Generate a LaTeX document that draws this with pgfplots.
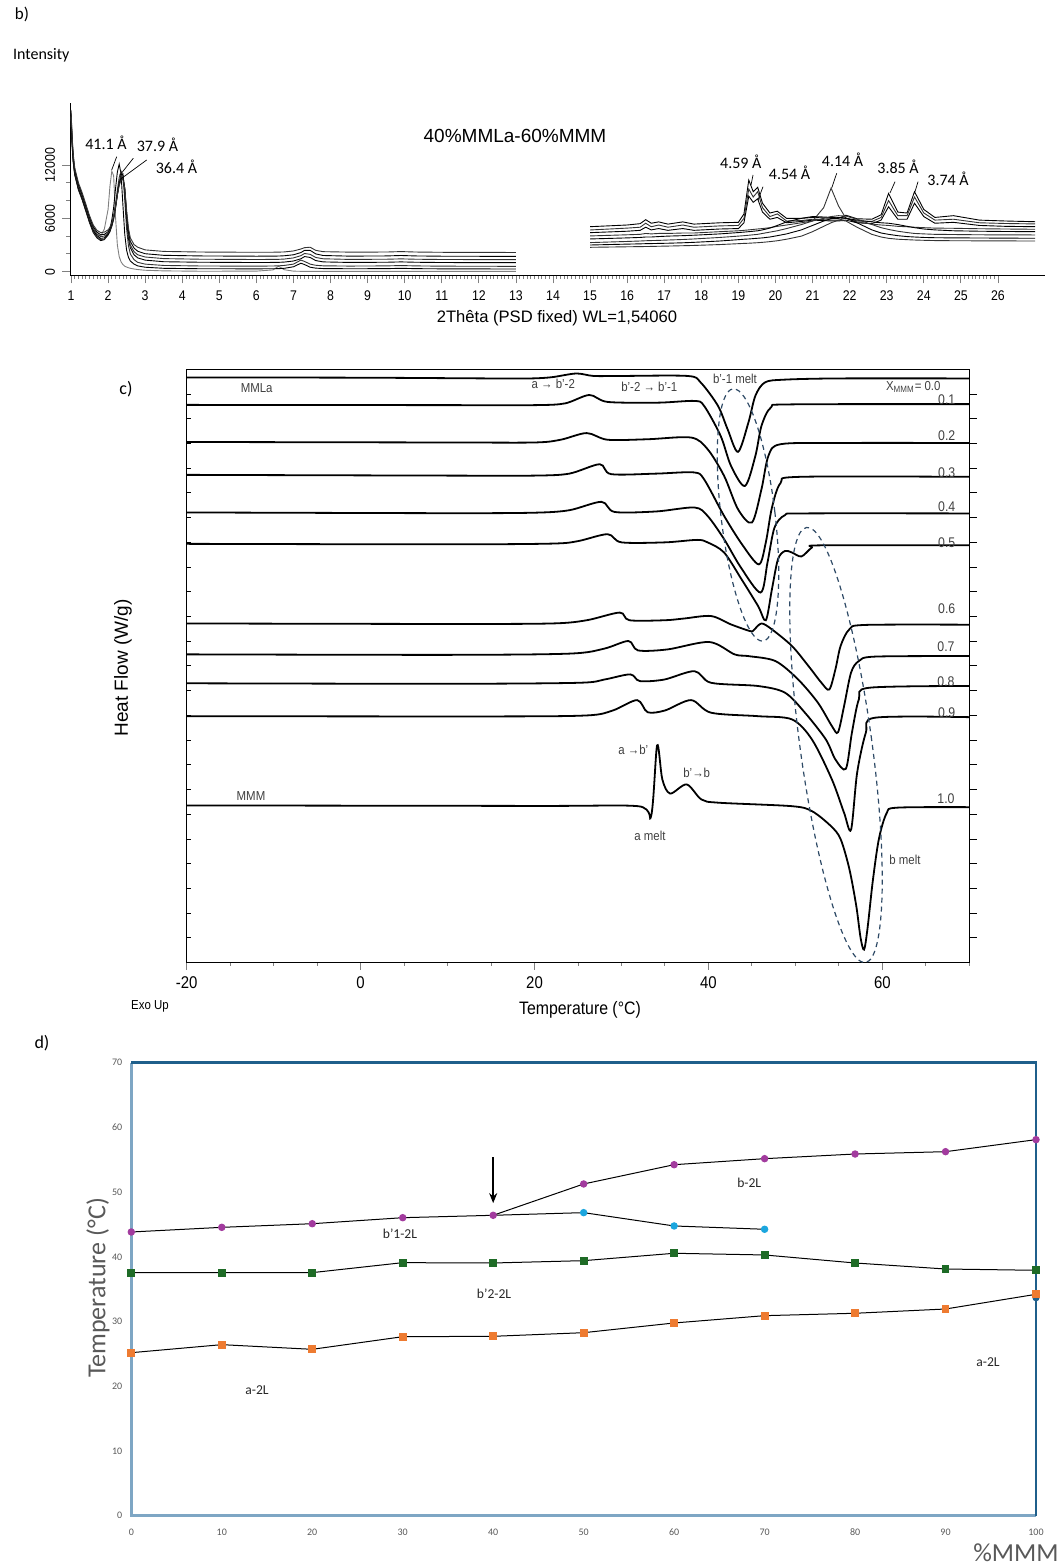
\documentclass[border=0pt]{standalone}
\usepackage{fontspec}
\setmainfont{Liberation Sans}
\newfontfamily\calfont{Carlito}
\newfontfamily\narrowfont[FakeStretch=0.88]{Liberation Sans}
\usepackage{pgfplots}
\pgfplotsset{compat=1.18}
\usepackage{pgfplotstable}
\usetikzlibrary{arrows.meta}
\newcommand{\fsz}[1]{\fontsize{#1}{#1}\selectfont}
\definecolor{dpurple}{HTML}{A23B9E}
\definecolor{dcyan}{HTML}{1BA6DE}
\definecolor{dgreen}{HTML}{1E6B26}
\definecolor{dorange}{HTML}{EE7B31}
\definecolor{dblue}{HTML}{1F5F8B}
\definecolor{lblue}{HTML}{7EA6C4}
\definecolor{dashc}{HTML}{2E4A66}
\definecolor{lgray}{HTML}{595959}
\definecolor{tgray}{HTML}{404040}
\tikzset{dsc/.style={black, line width=0.9pt, smooth, tension=0.5}}

\pgfplotstableread{
x c0 c1 c2 c3 c4 c5 c6
1.0 17500 17000 17300 17500 17700 17900 18200
1.03 14500 14200 14400 14600 14800 15000 15200
1.06 12500 12300 12400 12600 12800 13000 13200
1.1 11000 10900 11000 11100 11300 11500 11700
1.2 9300 9200 9300 9400 9600 9800 10000
1.3 8200 8100 8200 8300 8500 8700 8900
1.4 6900 6800 6900 7000 7200 7400 7600
1.5 5700 5500 5600 5700 5900 6100 6300
1.6 4700 4400 4500 4650 4850 5050 5250
1.7 4150 3800 3900 4050 4250 4450 4650
1.8 4000 3500 3600 3750 3950 4150 4400
1.9 4800 3600 3650 3800 4000 4200 4450
2.0 7000 4200 4100 4200 4350 4500 4700
2.05 9600 4800 4500 4550 4700 4850 5000
2.1 11300 5800 5200 5100 5200 5350 5500
2.15 10800 7200 6200 5900 6000 6100 6200
2.2 6200 9300 7600 7100 7200 7300 7300
2.25 3000 11200 9200 8600 8700 8700 8600
2.3 1700 12100 10600 10000 10000 9900 9700
2.35 1100 11000 11300 10900 10700 10500 10300
2.4 800 7500 10800 11000 10800 10600 10400
2.45 620 4200 8000 9000 9300 9400 9400
2.5 520 2400 4800 5800 6300 6600 6900
2.55 440 1600 2900 3700 4100 4500 4900
2.6 380 1200 2000 2700 3000 3400 3800
2.7 300 850 1350 1900 2250 2650 3050
2.8 240 650 1050 1550 1900 2300 2750
3.0 160 500 850 1300 1650 2020 2450
3.5 90 380 700 1120 1470 1840 2280
4.5 50 330 640 1060 1400 1770 2210
6.0 60 320 620 1030 1370 1740 2180
6.45 200 330 640 1040 1380 1750 2190
6.6 620 340 660 1050 1390 1760 2200
6.75 220 380 700 1080 1420 1790 2220
7.0 60 550 850 1200 1550 1900 2330
7.2 40 950 1300 1450 1800 2150 2550
7.3 40 800 1150 1700 2050 2400 2700
7.45 40 500 850 1600 1950 2400 2750
7.6 35 400 720 1250 1600 2000 2400
7.8 30 350 660 1100 1450 1820 2250
8.5 30 330 630 1040 1380 1750 2200
9.5 30 340 650 1060 1400 1770 2210
9.9 40 380 690 1100 1440 1820 2260
10.3 30 340 650 1060 1400 1770 2210
11 30 320 620 1030 1370 1740 2180
12 30 310 610 1020 1360 1730 2170
13 30 300 600 1010 1350 1720 2160
}\leftdata

\pgfplotstableread{
x r0 r1 r2 r3 r4 r5 r6 r7
15.0 5060 4690 4390 4020 3680 3270 3000 2740
16.0 5250 4900 4550 4150 3800 3400 3100 2800
16.35 5400 5000 4650 4200 3850 3450 3130 2820
16.5 5850 5450 5000 4300 3900 3480 3150 2830
16.65 5450 5050 4700 4250 3900 3500 3160 2840
16.85 5600 5250 4850 4300 3950 3520 3180 2860
17.1 5350 5000 4650 4300 4000 3560 3200 2880
17.5 5600 5250 4850 4350 4050 3620 3250 2920
17.8 5350 5000 4650 4350 4100 3680 3300 2950
18.5 5500 5150 4800 4500 4250 3850 3450 3050
19.0 5550 5200 4850 4600 4400 4000 3600 3150
19.15 6500 6000 5500 4650 4450 4050 3650 3180
19.28 10300 9300 8500 4700 4500 4100 3680 3200
19.4 9000 8400 7800 4750 4550 4150 3720 3230
19.52 9500 9000 8200 4800 4600 4200 3760 3260
19.65 7700 7200 6700 4850 4700 4300 3800 3300
19.85 6600 6200 5900 4950 4900 4450 3900 3380
20.05 6800 6500 6100 5100 5200 4600 4050 3480
20.3 6000 5700 5500 5250 5600 4850 4250 3650
20.7 6000 5750 5650 5500 6000 5300 4700 4000
21.0 6100 5900 5800 5700 6200 5700 5200 4500
21.3 6050 5850 5750 7200 6150 6000 5700 5100
21.5 6000 5800 5700 9400 6100 6200 5950 5500
21.7 6000 5800 5700 7400 6050 6300 6100 5800
21.9 6350 6000 5800 6000 6000 6250 6050 5700
22.2 5950 5700 5500 5600 5800 5900 5500 5000
22.6 5900 5650 5400 5350 5600 5300 4700 4200
22.85 6400 6100 5800 5250 5500 4950 4350 3900
23.05 8800 8000 7300 5200 5450 4750 4200 3750
23.3 6700 6300 5900 5100 5300 4550 4050 3650
23.55 6600 6300 5900 5050 5100 4400 3950 3600
23.75 9000 8400 7700 5000 4950 4300 3900 3560
24.0 7000 6600 6200 4950 4800 4250 3850 3530
24.3 6100 5800 5450 4900 4700 4200 3820 3500
24.8 6300 5900 5550 4880 4600 4180 3800 3480
25.5 5800 5500 5200 4830 4550 4150 3790 3470
26.2 5700 5420 5100 4800 4520 4140 3770 3460
27.0 5620 5370 5060 4770 4500 4130 3760 3450
}\rightdata

\begin{document}
\begin{tikzpicture}[x=0.5pt,y=0.5pt]
\path[use as bounding box] (0,0) rectangle (1063,1566);

%================ panel b =================
\begin{axis}[at={(35pt,645.25pt)}, anchor=south west, scale only axis,
  width=487.5pt, height=86.25pt,
  xmin=0.973, xmax=27.27, ymin=-427, ymax=18976,
  axis x line=bottom, axis y line=left,
  axis line style={-, line width=0.5pt},
  xtick={1,...,26}, minor x tick num=9,
  ytick={0,6000,12000}, minor y tick num=2,
  tick align=outside, major tick length=4pt, minor tick length=1.8pt,
  tick style={line width=0.4pt},
  scaled y ticks=false,
  yticklabel style={rotate=90, /pgf/number format/1000 sep={}},
  tick label style={font=\narrowfont\fsz{7}},
  /pgf/number format/assume math mode=true,
  clip=false]
\addplot[gray, line width=0.45pt] table[x=x,y=c0]{\leftdata};
\addplot[black, line width=0.45pt] table[x=x,y=c1]{\leftdata};
\addplot[black!80, line width=0.45pt] table[x=x,y=c2]{\leftdata};
\addplot[black, line width=0.45pt] table[x=x,y=c3]{\leftdata};
\addplot[black!80, line width=0.45pt] table[x=x,y=c4]{\leftdata};
\addplot[black, line width=0.45pt] table[x=x,y=c5]{\leftdata};
\addplot[black!80, line width=0.45pt] table[x=x,y=c6]{\leftdata};
\addplot[black, line width=0.45pt] table[x=x,y=r0]{\rightdata};
\addplot[black!80, line width=0.45pt] table[x=x,y=r1]{\rightdata};
\addplot[black, line width=0.45pt] table[x=x,y=r2]{\rightdata};
\addplot[black!80, line width=0.45pt] table[x=x,y=r3]{\rightdata};
\addplot[black, line width=0.45pt] table[x=x,y=r4]{\rightdata};
\addplot[black!80, line width=0.45pt] table[x=x,y=r5]{\rightdata};
\addplot[black, line width=0.45pt] table[x=x,y=r6]{\rightdata};
\addplot[black!80, line width=0.45pt] table[x=x,y=r7]{\rightdata};
\end{axis}

\node[font=\calfont\fsz{8.5}] at (22,1552) {b)};
\node[font=\calfont\fsz{8}, anchor=west] at (6,1511) {Intensity};
\node[font=\fsz{9.5}] at (515,1430) {40\%MMLa-60\%MMM};
\node[font=\fsz{8.3}] at (557,1247.7) {2Thêta (PSD fixed) WL=1,54060};
\begin{scope}[font=\calfont\fsz{8}]
\node at (106,1423.3) {41.1 Å};
\node at (157.5,1421) {37.9 Å};
\node at (176.5,1399.3) {36.4 Å};
\node at (740.8,1404.3) {4.59 Å};
\node at (789.5,1392.7) {4.54 Å};
\node at (842.5,1406) {4.14 Å};
\node at (898,1398.7) {3.85 Å};
\node at (948,1386.7) {3.74 Å};
\end{scope}
\begin{scope}[line width=0.35pt]
\draw (116.7,1409.3) -- (111.7,1396);
\draw (133.3,1407.7) -- (120,1391);
\draw (146.7,1406) -- (121.7,1387.7);
\draw (753,1391) -- (751,1381);
\draw (763,1379.3) -- (758,1366);
\draw (836.7,1392.7) -- (831.7,1378);
\draw (895,1384.3) -- (890,1373);
\draw (918,1384.3) -- (915,1374.3);
\end{scope}

%================ panel c =================
\begin{axis}[at={(93.35pt,301.65pt)}, anchor=south west, scale only axis,
  width=391.3pt, height=296.7pt,
  xmin=-20, xmax=70, ymin=0, ymax=24,
  xtick={-20,0,20,40,60}, xticklabels={-20,0,20,40,60},
  minor xtick={-15,-10,-5,5,10,15,25,30,35,45,50,55,65,70},
  ytick=\empty, xtick pos=bottom,
  tick align=outside, major tick length=3.5pt, minor tick length=1.5pt,
  tick style={line width=0.5pt},
  axis line style={line width=0.6pt},
  tick label style={font=\narrowfont\fsz{8.5}},
  clip=false]
\pgfplotsinvokeforeach{1,...,23}{\draw[line width=0.5pt] (axis cs:-20,#1) -- (axis cs:-19.55,#1);}
\pgfplotsinvokeforeach{1,...,23}{\draw[line width=0.5pt] (axis cs:70,#1) -- (axis cs:70.85,#1);}
\addplot[dsc] coordinates {(-20,23.67)(0,23.66)(15,23.63)(19.6,23.63)(22,23.68)(24.8,23.83)(26.8,23.73)(30,23.73)(37.6,23.73)(39.1,23.47)(41.1,22.52)(42.2,21.58)(43.4,20.66)(44.6,21.85)(45.4,22.93)(46.5,23.47)(48.7,23.58)(55,23.63)(70,23.63)};
\addplot[dsc] coordinates {(-20,22.56)(10,22.55)(20,22.55)(23.5,22.62)(26.3,22.96)(28.4,22.68)(34.2,22.65)(38.4,22.72)(39.5,22.52)(41.4,21.31)(42.6,20.09)(44.2,19.28)(45.4,20.5)(46.1,21.71)(47.2,22.46)(49.5,22.58)(70,22.59)};
\addplot[dsc] coordinates {(-20,21.06)(10,21.04)(20,21.04)(23,21.15)(26.0,21.42)(28.4,21.15)(33,21.17)(38,21.24)(39.9,20.77)(41.8,19.69)(43.4,18.34)(45.0,17.8)(46.1,19.15)(46.9,20.5)(48.3,20.97)(55,21.02)(70,21.02)};
\addplot[dsc] coordinates {(-20,19.73)(10,19.7)(20,19.7)(24,19.78)(27.5,20.16)(28.8,19.76)(34,19.78)(38.3,19.83)(39.5,19.55)(41.8,18.07)(43.9,16.9)(45.8,16.11)(46.6,17.0)(47.3,18.4)(48.3,19.4)(50.5,19.65)(70,19.65)};
\addplot[dsc] coordinates {(-20,18.21)(10,18.18)(20,18.2)(24,18.3)(27.7,18.64)(29.2,18.23)(34,18.25)(38.4,18.41)(39.9,18.07)(41.8,17.13)(43.7,16.0)(46.0,14.97)(46.8,16.2)(47.6,17.6)(48.8,18.1)(51,18.17)(70,18.17)};
\addplot[dsc] coordinates {(-20,16.94)(10,16.92)(22,16.95)(25,17.05)(28.4,17.33)(30,17.0)(35,17.0)(38.7,17.1)(39.9,17.0)(41.8,16.59)(43.8,15.51)(45.7,14.43)(46.6,13.85)(47.3,15.1)(48.0,16.32)(48.8,16.65)(49.6,16.59)(50.7,16.43)(51.9,16.79)(53.0,16.88)(70,16.88)};
\addplot[dsc] coordinates {(-20,13.72)(10,13.7)(22,13.72)(26,13.85)(29.8,14.16)(30.9,13.85)(35,13.85)(37.2,13.92)(40.3,14.02)(42.6,13.68)(44.8,13.41)(45.2,13.45)(46.1,13.72)(47.3,13.48)(49.6,12.81)(51.5,12.0)(53.0,11.32)(53.9,11.05)(54.6,11.86)(55.2,12.81)(56.2,13.48)(58.0,13.66)(70,13.67)};
\addplot[dsc] coordinates {(-20,12.47)(10,12.45)(24,12.5)(28,12.7)(30.8,13.01)(31.9,12.63)(35.3,12.67)(40.1,12.97)(43.0,12.47)(44.6,12.4)(47.7,12.2)(50.3,11.46)(52.6,10.51)(54.2,9.57)(54.9,9.32)(55.6,10.38)(56.4,11.73)(57.3,12.2)(59.2,12.38)(70,12.40)};
\addplot[dsc] coordinates {(-20,11.3)(10,11.28)(25,11.32)(28,11.45)(31.0,11.66)(32.1,11.39)(34.9,11.45)(38.4,11.79)(40.3,11.32)(45.7,11.19)(48.8,10.92)(51.1,10.11)(53.5,9.03)(54.6,8.22)(55.8,7.84)(56.5,9.3)(57.3,10.65)(58.5,11.12)(70,11.19)};
\addplot[dsc] coordinates {(-20,9.97)(15,9.96)(26,10.0)(29,10.2)(31.8,10.62)(33.0,10.13)(35,10.2)(38.0,10.62)(40.3,10.11)(45.7,9.97)(49.6,9.84)(51.9,9.03)(54.2,7.41)(55.6,6.06)(56.4,5.38)(57.1,7.68)(58.1,9.3)(59.2,9.91)(70,9.93)};
\addplot[dsc] coordinates {(-20,6.36)(20,6.34)(31.9,6.33)(33.4,5.92)(34.1,8.79)(34.7,7.41)(35.6,6.84)(37.5,7.21)(39.2,6.6)(41.2,6.47)(49.6,6.33)(51.9,6.13)(54.1,5.52)(55.2,5.0)(56.2,3.8)(57.0,2.3)(57.5,1.0)(57.9,0.53)(58.3,1.4)(58.9,3.3)(59.6,5.0)(60.5,6.05)(61.7,6.27)(70,6.29)};
\end{axis}

\draw[dashc, dash pattern=on 2.5pt off 2pt, line width=0.6pt, rotate around={6.8:(748,1051)}] (748,1051) ellipse [x radius=13.5pt, y radius=63.5pt];
\draw[dashc, dash pattern=on 2.5pt off 2pt, line width=0.6pt, rotate around={7.7:(836,821)}] (836,821) ellipse [x radius=18pt, y radius=109.75pt];

\node[font=\calfont\fsz{9}] at (126,1177) {c)};
\node[font=\fsz{9.5}, rotate=90] at (123,898) {Heat Flow (W/g)};
\node[font=\narrowfont\fsz{9}] at (580,556) {Temperature (°C)};
\node[font=\narrowfont\fsz{6.5}] at (150,560) {Exo Up};
\begin{scope}[font=\narrowfont\fsz{6.5}, text=tgray]
\node at (256.7,1178.3) {MMLa};
\node at (553.3,1182) {a → b’-2};
\node at (649.3,1179.3) {b’-2 → b’-1};
\node at (735,1187) {b’-1 melt};
\node at (913.3,1179.3) {X\textsubscript{MMM}= 0.0};
\node at (633.3,816) {a →b’};
\node at (696.7,792.7) {b’→b};
\node at (650,730) {a melt};
\node at (251,770.3) {MMM};
\node at (905,706) {b melt};
\end{scope}
\begin{scope}[font=\narrowfont\fsz{7}, text=tgray]
\node at (946.7,1166) {0.1};
\node at (946.7,1130.3) {0.2};
\node at (946.7,1093.3) {0.3};
\node at (946.7,1059.3) {0.4};
\node at (946.7,1023.3) {0.5};
\node at (946.7,957) {0.6};
\node at (946,919.3) {0.7};
\node at (946,884.3) {0.8};
\node at (946.7,853.3) {0.9};
\node at (946,767) {1.0};
\end{scope}

%================ panel d =================
\begin{axis}[at={(65.65pt,25.15pt)}, anchor=south west, scale only axis,
  width=452.35pt, height=226.5pt,
  xmin=0, xmax=100, ymin=0, ymax=70,
  xtick={0,10,...,100}, ytick={0,10,...,70},
  major tick length=0pt, axis line style={draw=none},
  tick label style={font=\calfont\fsz{5}, text=lgray},
  xticklabel style={yshift=-3pt}, yticklabel style={xshift=-1pt},
  /pgf/number format/assume math mode=true,
  clip=false]
\draw[lblue, line width=1.3pt] (axis cs:0,70) -- (axis cs:0,0) -- (axis cs:100,0);
\draw[dblue, line width=1.3pt] (axis cs:0,70) -- (axis cs:100,70) -- (axis cs:100,0);
\addplot[black, line width=0.5pt, mark=*, mark size=1.6pt, mark options={fill=dpurple, draw=dpurple}] coordinates {(0,43.84)(10,44.56)(20,45.12)(30,46.05)(40,46.42)(50,51.26)(60,54.24)(70,55.17)(80,55.89)(90,56.25)(100,58.11)};
\addplot[black, line width=0.5pt, mark=*, mark size=1.6pt, mark options={fill=dcyan, draw=dcyan}, mark indices={2,3,4}] coordinates {(40,46.42)(50,46.83)(60,44.77)(70,44.26)};
\addplot[black, line width=0.5pt, mark=square*, mark size=1.7pt, mark options={fill=dgreen, draw=dgreen}] coordinates {(0,37.56)(10,37.56)(20,37.56)(30,39.10)(40,39.05)(50,39.41)(60,40.55)(70,40.29)(80,39.05)(90,38.12)(100,37.92)};
\addplot[only marks, mark=*, mark size=1.6pt, mark options={fill=dblue, draw=dblue}] coordinates {(100,33.69)};
\addplot[black, line width=0.5pt, mark=square*, mark size=1.7pt, mark options={fill=dorange, draw=dorange}] coordinates {(0,25.19)(10,26.43)(20,25.71)(30,27.66)(40,27.72)(50,28.28)(60,29.78)(70,30.91)(80,31.28)(90,31.94)(100,34.21)};
\draw[-{Stealth[length=5pt,width=4pt]}, line width=1pt] (axis cs:40,55.4) -- (axis cs:40,48.3);
\node[font=\calfont\fsz{6.8}, text=black!85] at (axis cs:29.7,43.5) {b’1-2L};
\node[font=\calfont\fsz{6.8}, text=black!85] at (axis cs:40.1,34.3) {b’2-2L};
\node[font=\calfont\fsz{6.8}, text=black!85] at (axis cs:68.3,51.4) {b-2L};
\node[font=\calfont\fsz{6.8}, text=black!85] at (axis cs:13.9,19.4) {a-2L};
\node[font=\calfont\fsz{6.8}, text=black!85] at (axis cs:94.7,23.8) {a-2L};
\end{axis}

\node[font=\calfont\fsz{9}] at (42,523) {d)};
\node[font=\calfont\fsz{13}, text=lgray, rotate=90] at (98,278) {Temperature (°C)};
\node[font=\calfont\fsz{13}, text=lgray] at (1016,13) {\%MMM};
\end{tikzpicture}
\end{document}
